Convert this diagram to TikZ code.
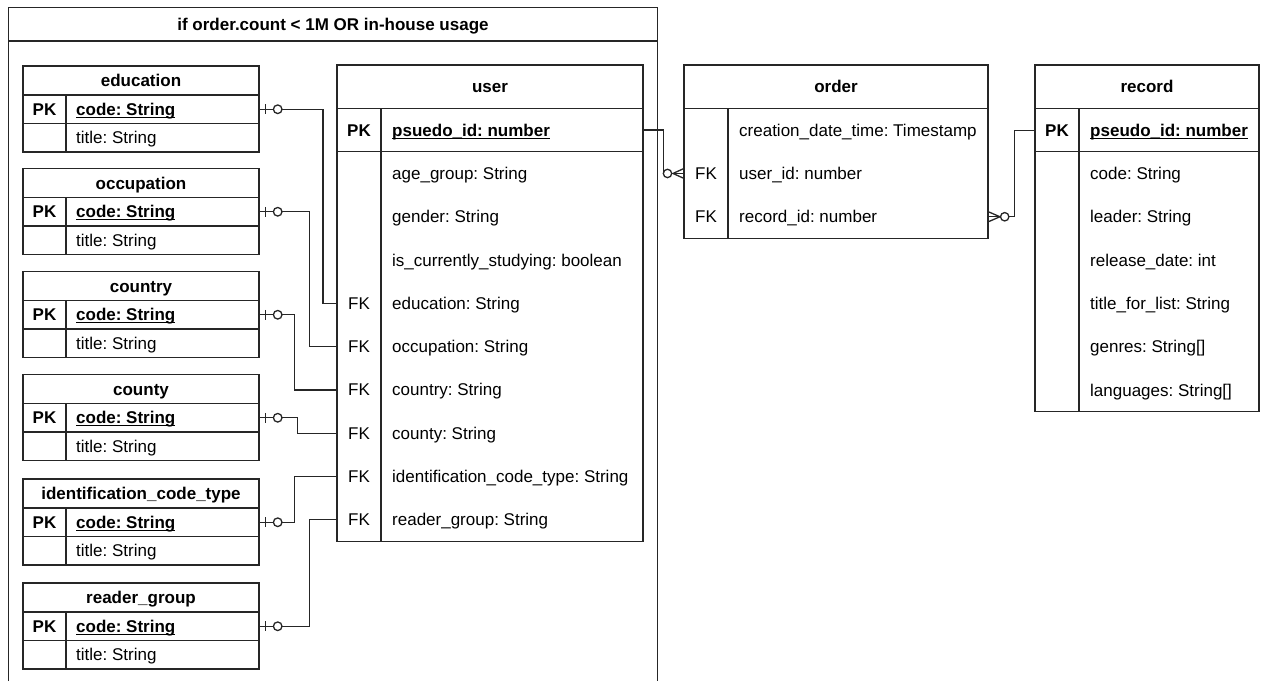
\documentclass[tikz,border=0pt]{standalone}
\usepackage{fontspec}
\setmainfont{Liberation Sans}
\frenchspacing
\definecolor{lncol}{HTML}{262626}
\newcommand\fs{\fontsize{17}{20}\selectfont}
% bold key text with a drawn underline
\newcommand\keyul[1]{\setbox0\hbox{#1}\rlap{\rule[-2.4pt]{\wd0}{1pt}}\box0}
% small lookup table: id, top, title
\newcommand\lookup[3]{%
  \begin{scope}[shift={(0,#2)}]
    \draw[ln] (23,0) rectangle (259,86);
    \draw[ln] (23,29) -- (259,29) (23,57.5) -- (259,57.5) (66,29) -- (66,86);
    \node[hd] at (141,14.5) {#3};
    \node[key] at (44.5,43.25) {PK};
    \node[fld,font=\fs\bfseries] at (76,43.25) {\keyul{code: String}};
    \node[fld] at (76,71.75) {title: String};
    \node[slot,minimum width=236pt] (#1) at (23,43.25) {};
  \end{scope}}
\begin{document}
\begin{tikzpicture}[x=1pt,y=-1pt,
  ln/.style={draw=lncol,line width=1.3pt},
  txt/.style={inner sep=0pt,text height=12.2pt,text depth=0pt,font=\fs},
  hd/.style={txt,font=\fs\bfseries},
  key/.style={txt,font=\fs\bfseries},
  fk/.style={txt},
  fld/.style={txt,anchor=west},
  slot/.style={inner sep=0pt,minimum height=20pt,anchor=west},
]
\useasboundingbox (0,0) rectangle (1262,681);

% container for the in-house variant
\draw[ln] (8.3,681) -- (8.3,7.5) -- (657.3,7.5) -- (657.3,681);
\draw[ln] (8.3,41) -- (657.3,41);
\node[hd] (cond) at (333,24.5) {if order.count < 1M OR in-house usage};

% lookup tables
\lookup{edu}{66}{education}
\lookup{occ}{168.5}{occupation}
\lookup{cty}{271.5}{country}
\lookup{cny}{374.5}{county}
\lookup{idc}{479}{identification\_code\_type}
\lookup{rdg}{583}{reader\_group}

% user table
\draw[ln] (337,65) rectangle (643,541.4);
\draw[ln] (337,108.3) -- (643,108.3) (337,151.7) -- (643,151.7) (381,108.3) -- (381,541.4);
\node[hd] (user) at (490,86.6) {user};
\node[key] at (359,130) {PK};
\node[fld,font=\fs\bfseries] at (392,130) {\keyul{psuedo\_id: number}};
\node[slot,minimum width=306pt] (u-pk) at (337,130) {};
\foreach \i/\k/\t/\n in {
  1//age\_group: String/u-age,
  2//gender: String/u-gen,
  3//is\_currently\_studying: boolean/u-stu,
  4/FK/education: String/u-edu,
  5/FK/occupation: String/u-occ,
  6/FK/country: String/u-cty,
  7/FK/county: String/u-cny,
  8/FK/identification\_code\_type: String/u-idc,
  9/FK/reader\_group: String/u-rdg}{
  \pgfmathsetmacro\yy{151.7+43.3*(\i-0.5)}
  \node[fk] at (359,\yy) {\k};
  \node[fld] at (392,\yy) {\t};
  \node[slot,minimum width=306pt] (\n) at (337,\yy) {};
}

% order table
\draw[ln] (684,65) rectangle (988,238.4);
\draw[ln] (684,108.5) -- (988,108.5) (728,108.5) -- (728,238.4);
\node[hd] (order) at (836,86.7) {order};
\foreach \i/\k/\t/\n in {
  1//creation\_date\_time: Timestamp/o-cdt,
  2/FK/user\_id: number/o-uid,
  3/FK/record\_id: number/o-rid}{
  \pgfmathsetmacro\yy{108.5+43.3*(\i-0.5)}
  \node[fk] at (706,\yy) {\k};
  \node[fld] at (739,\yy) {\t};
  \node[slot,minimum width=304pt] (\n) at (684,\yy) {};
}

% record table
\draw[ln] (1035,65) rectangle (1259,411.6);
\draw[ln] (1035,108.5) -- (1259,108.5) (1035,151.8) -- (1259,151.8) (1079,108.5) -- (1079,411.6);
\node[hd] (record) at (1147,86.7) {record};
\node[key] at (1057,130.15) {PK};
\node[fld,font=\fs\bfseries] at (1090,130.15) {\keyul{pseudo\_id: number}};
\node[slot,minimum width=224pt] (r-pk) at (1035,130.15) {};
\foreach \i/\t in {1/code: String,2/leader: String,3/release\_date: int,
  4/title\_for\_list: String,5/genres: String[],6/languages: String[]}{
  \pgfmathsetmacro\yy{151.8+43.3*(\i-0.5)}
  \node[fld] at (1090,\yy) {\t};
}

% foreign keys of user onto the lookup tables
\draw[ln] (edu.east) -- ++(63.7,0) |- (u-edu.west);
\draw[ln] (occ.east) -- ++(50,0) |- (u-occ.west);
\draw[ln] (cty.east) -- ++(35,0) |- (u-cty.west);
\draw[ln] (cny.east) -- ++(38.3,0) |- (u-cny.west);
\draw[ln] (idc.east) -- ++(35,0) |- (u-idc.west);
\draw[ln] (rdg.east) -- ++(50,0) |- (u-rdg.west);
\foreach \n in {edu,occ,cty,cny,idc,rdg}{
  \draw[ln] ([xshift=6pt]\n.east) ++(0,-5) -- ++(0,10);
  \draw[ln,fill=white] ([xshift=18.3pt]\n.east) circle (4.3);
}

% order -> user
\draw[ln] (u-pk.east) -- ++(20,0) |- (o-uid.west);
\draw[ln] ([xshift=-11pt]o-uid.west) -- ([yshift=5pt]o-uid.west)
          ([xshift=-11pt]o-uid.west) -- ([yshift=-5pt]o-uid.west);
\draw[ln,fill=white] ([xshift=-16.5pt]o-uid.west) circle (4.2);

% order -> record
\draw[ln] (r-pk.west) -- ++(-20.7,0) |- (o-rid.east);
\draw[ln] ([xshift=11.5pt]o-rid.east) -- ([yshift=5pt]o-rid.east)
          ([xshift=11.5pt]o-rid.east) -- ([yshift=-5pt]o-rid.east);
\draw[ln,fill=white] ([xshift=16.3pt]o-rid.east) circle (4.2);
\end{tikzpicture}
\end{document}
